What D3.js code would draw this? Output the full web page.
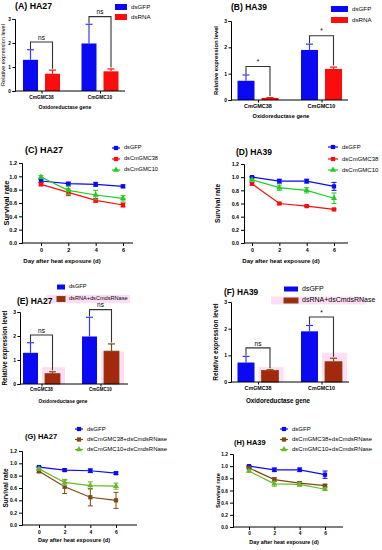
<!DOCTYPE html>
<html>
<head>
<meta charset="utf-8">
<script src="https://cdn.jsdelivr.net/npm/d3@7"></script>
<style>
  body { margin: 0; background: #fff; }
  svg { display: block; font-family: "Liberation Sans", Arial, sans-serif; }
</style>
</head>
<body>
<div id="chart"></div>
<script>
// ---------- data ----------
const genes = ["CmGMC38", "CmGMC10"];
const days = [0, 2, 4, 6];

// (A) HA27 expression
const aSeries = ["dsGFP", "dsRNA"];
const aGFP = [1.30, 1.98], aGFPErr = [0.42, 0.80];
const aRNA = [0.72, 0.82], aRNAErr = [0.15, 0.10];
const aSig = ["ns", "ns"];

// (B) HA39 expression
const bSeries = ["dsGFP", "dsRNA"];
const bGFP = [0.73, 1.90], bGFPErr = [0.22, 0.22];
const bRNA = [0.08, 1.18], bRNAErr = [0.01, 0.07];
const bSig = ["*", "*"];

// (E) HA27 expression with dsCmdsRNase
const eSeries = ["dsGFP", "dsRNA+dsCmdsRNase"];
const eGFP = [1.30, 1.98], eGFPErr = [0.42, 0.80];
const eRNA = [0.43, 1.37], eRNAErr = [0.08, 0.30];
const eSig = ["ns", "ns"];

// (F) HA39 expression with dsCmdsRNase
const fSeries = ["dsGFP", "dsRNA+dsCmdsRNase"];
const fGFP = [0.73, 1.90], fGFPErr = [0.23, 0.22];
const fRNA = [0.43, 0.76], fRNAErr = [0.03, 0.13];
const fSig = ["ns", "*"];

// (C) HA27 survival
const cSeries = ["dsGFP", "dsCmGMC38", "dsCmGMC10"];
const cGFP = [0.93, 0.89, 0.88, 0.85], cGFPErr = [0.02, 0.02, 0.03, 0.02];
const c38 = [0.88, 0.76, 0.64, 0.57], c38Err = [0.02, 0.05, 0.03, 0.03];
const c10 = [0.99, 0.79, 0.72, 0.67], c10Err = [0.02, 0.06, 0.07, 0.04];

// (D) HA39 survival
const dSeries = ["dsGFP", "dsCmGMC38", "dsCmGMC10"];
const dGFP = [1.00, 0.94, 0.94, 0.86], dGFPErr = [0.01, 0.03, 0.03, 0.06];
const d38 = [0.90, 0.60, 0.56, 0.51], d38Err = [0.02, 0.01, 0.01, 0.01];
const d10 = [0.96, 0.84, 0.80, 0.68], d10Err = [0.01, 0.04, 0.04, 0.08];

// (G) HA27 survival with dsCmdsRNase
const gSeries = ["dsGFP", "dsCmGMC38+dsCmdsRNase", "dsCmGMC10+dsCmdsRNase"];
const gGFP = [0.94, 0.89, 0.88, 0.84], gGFPErr = [0.01, 0.02, 0.03, 0.02];
const g38 = [0.87, 0.62, 0.45, 0.40], g38Err = [0.02, 0.11, 0.14, 0.13];
const g10 = [0.91, 0.69, 0.64, 0.63], g10Err = [0.02, 0.05, 0.06, 0.05];

// (H) HA39 survival with dsCmdsRNase
const hSeries = ["dsGFP", "dsCmGMC38+dsCmdsRNase", "dsCmGMC10+dsCmdsRNase"];
const hGFP = [1.00, 0.94, 0.94, 0.86], hGFPErr = [0.01, 0.03, 0.03, 0.06];
const h38 = [0.97, 0.78, 0.72, 0.68], h38Err = [0.01, 0.03, 0.02, 0.02];
const h10 = [0.92, 0.71, 0.70, 0.62], h10Err = [0.02, 0.04, 0.03, 0.02];

// ---------- colours ----------
const BLUE = "#0a0af2", RED = "#fb0d0d", GREEN = "#22cc22";
const BROWN = "#7a4a12", BROWNFILL = "#a3280c", OLIVE = "#6cb52c";
const PINK = "#ffd6f2";

const svg = d3.select("#chart").append("svg")
    .attr("width", 382)
    .attr("height", 550);

function styleAxis(g, fs) {
    g.selectAll("path, line").attr("stroke", "#000").attr("stroke-width", 1);
    g.selectAll("text")
        .attr("font-size", fs)
        .attr("font-weight", "bold")
        .attr("fill", "#000")
        .attr("font-family", "Liberation Sans, Arial, sans-serif");
}

function addText(x, y, txt, size, opts) {
    opts = opts || {};
    const t = svg.append("text")
        .attr("x", x)
        .attr("y", y)
        .attr("font-size", size)
        .attr("font-weight", opts.bold ? "bold" : "normal")
        .attr("text-anchor", opts.anchor || "start")
        .attr("dominant-baseline", "middle")
        .attr("fill", "#000")
        .text(txt);
    if (opts.rotate) t.attr("transform", "rotate(-90," + x + "," + y + ")");
    return t;
}

// bar chart panel (relative expression)
function barPanel(p) {
    const y = d3.scaleLinear().domain([0, 3]).range([p.bottom, p.top]);
    const gx = d3.scalePoint().domain(genes).range(p.centers);
    const half = p.barW + p.gap / 2;
    const sx = d3.scaleBand().domain(p.series).range([-half, half])
        .paddingInner(p.gap / (p.barW + p.gap));
    const bw = sx.bandwidth();

    // pale pink boxes behind the second series and its legend entry (present in the source image)
    if (p.highlight) {
        svg.append("g").selectAll("rect")
            .data(genes.map((gn, i) => ({ gn, v: p.highlight[i] })))
            .enter().append("rect")
            .attr("x", d => gx(d.gn) + sx(p.series[1]) - 3)
            .attr("width", bw + 8)
            .attr("y", d => y(d.v))
            .attr("height", d => y(0) - y(d.v))
            .attr("fill", PINK)
            .attr("opacity", 0.8);
    }
    if (p.legendBg) {
        svg.append("rect")
            .attr("x", p.legendBg[0]).attr("y", p.legendRows[1] - 4)
            .attr("width", p.legendBg[1]).attr("height", 8)
            .attr("fill", PINK).attr("opacity", 0.8);
    }

    const means = [p.m0, p.m1], errs = [p.e0, p.e1];
    p.series.forEach((s, si) => {
        const rows = genes.map((gn, i) => ({ gn, v: means[si][i], e: errs[si][i] }));
        const g = svg.append("g");
        g.selectAll("rect").data(rows).enter().append("rect")
            .attr("x", d => gx(d.gn) + sx(s))
            .attr("y", d => y(d.v))
            .attr("width", bw)
            .attr("height", d => y(0) - y(d.v))
            .attr("fill", p.fills[si])
            .attr("stroke", p.strokes ? p.strokes[si] : "none")
            .attr("stroke-width", 0.8);
        // error bars (upper only)
        g.selectAll("line.eb").data(rows).enter().append("line")
            .attr("x1", d => gx(d.gn) + sx(s) + bw / 2)
            .attr("x2", d => gx(d.gn) + sx(s) + bw / 2)
            .attr("y1", d => y(d.v))
            .attr("y2", d => y(d.v + d.e))
            .attr("stroke", p.errColors[si]).attr("stroke-width", 1.2);
        g.selectAll("line.cap").data(rows).enter().append("line")
            .attr("x1", d => gx(d.gn) + sx(s) + bw / 2 - 3.5)
            .attr("x2", d => gx(d.gn) + sx(s) + bw / 2 + 3.5)
            .attr("y1", d => y(d.v + d.e))
            .attr("y2", d => y(d.v + d.e))
            .attr("stroke", p.errColors[si]).attr("stroke-width", 1.2);
    });

    // significance brackets
    genes.forEach((gn, i) => {
        const t0 = p.m0[i] + p.e0[i], t1 = p.m1[i] + p.e1[i];
        const lvl = Math.max(t0, t1) + 0.32;
        const xa = gx(gn) + sx(p.series[0]) + bw / 2;
        const xb = gx(gn) + sx(p.series[1]) + bw / 2;
        svg.append("path")
            .attr("d", "M" + xa + "," + y(t0 + 0.03) + "V" + y(lvl) + "H" + xb + "V" + y(t1 + 0.06))
            .attr("fill", "none")
            .attr("stroke", "#333")
            .attr("stroke-width", 1.1);
        addText((xa + xb) / 2, y(lvl) - 4, p.sig[i], 6.5, { anchor: "middle" });
    });

    // axes
    const ya = svg.append("g")
        .attr("transform", "translate(" + p.axisX + ",0)")
        .call(d3.axisLeft(y).tickValues([0, 1, 2, 3]).tickSize(2.5).tickPadding(1.5).tickFormat(d3.format("d")));
    styleAxis(ya, p.tickFs);
    svg.append("line")
        .attr("x1", p.axisX).attr("x2", p.axisEnd)
        .attr("y1", y(0)).attr("y2", y(0))
        .attr("stroke", "#000").attr("stroke-width", 1);
    const xa = svg.append("g")
        .attr("transform", "translate(0," + y(0) + ")")
        .call(d3.axisBottom(gx).tickSize(2.5).tickFormat(""));
    xa.select(".domain").remove();
    styleAxis(xa, p.tickFs);
    genes.forEach(gn => addText(gx(gn), p.geneY, gn, p.geneFs, { bold: true, anchor: "middle" }));

    addText(p.titleX, p.titleY, p.title, p.titleFs, { bold: true });
    addText(p.ylabX, (p.top + p.bottom) / 2, "Relative expression level", p.ylabFs, { bold: p.ylabBold, anchor: "middle", rotate: true });
    addText(p.xlabX, p.xlabY, "Oxidoreductase gene", p.xlabFs, { bold: true, anchor: "middle" });

    // legend
    p.series.forEach((s, si) => {
        svg.append("rect")
            .attr("x", p.legendX).attr("y", p.legendRows[si] - p.legendH / 2)
            .attr("width", p.legendW).attr("height", p.legendH)
            .attr("fill", p.fills[si])
            .attr("stroke", p.strokes ? p.strokes[si] : "none");
        addText(p.legendX + p.legendW + 4, p.legendRows[si], s, p.legendFs);
    });
}

// survival line panel
function linePanel(p) {
    const x = d3.scaleLinear().domain([0, 6]).range([p.x0, p.x6]);
    const y = d3.scaleLinear().domain([0, 1.2]).range([p.bottom, p.top]);

    const ya = svg.append("g")
        .attr("transform", "translate(" + p.axisX + ",0)")
        .call(d3.axisLeft(y).tickValues([0, 0.2, 0.4, 0.6, 0.8, 1.0, 1.2]).tickSize(3).tickPadding(2).tickFormat(d3.format(".1f")));
    styleAxis(ya, p.tickFs);
    svg.append("line")
        .attr("x1", p.axisX).attr("x2", p.axisEnd)
        .attr("y1", y(0)).attr("y2", y(0))
        .attr("stroke", "#000").attr("stroke-width", 1);
    const xa = svg.append("g")
        .attr("transform", "translate(0," + y(0) + ")")
        .call(d3.axisBottom(x).tickValues(days).tickSize(3).tickPadding(2).tickFormat(d3.format("d")));
    xa.select(".domain").remove();
    styleAxis(xa, p.tickFs);

    const line = d3.line().x(d => x(d.day)).y(d => y(d.v));
    const symbols = [d3.symbolSquare, d3.symbolSquare, d3.symbolTriangle];
    p.series.forEach((s, si) => {
        const rows = days.map((day, i) => ({ day, v: p.means[si][i], e: p.errs[si][i] }));
        const g = svg.append("g");
        g.append("path").datum(rows)
            .attr("d", line)
            .attr("fill", "none")
            .attr("stroke", p.colors[si])
            .attr("stroke-width", 1.2);
        g.selectAll("line.eb").data(rows).enter().append("line")
            .attr("x1", d => x(d.day)).attr("x2", d => x(d.day))
            .attr("y1", d => y(d.v - d.e)).attr("y2", d => y(d.v + d.e))
            .attr("stroke", p.colors[si]).attr("stroke-width", 1);
        [-1, 1].forEach(sg => {
            g.selectAll("line.cap" + sg).data(rows).enter().append("line")
                .attr("x1", d => x(d.day) - 2.5).attr("x2", d => x(d.day) + 2.5)
                .attr("y1", d => y(d.v + sg * d.e)).attr("y2", d => y(d.v + sg * d.e))
                .attr("stroke", p.colors[si]).attr("stroke-width", 1);
        });
        g.selectAll("path.pt").data(rows).enter().append("path")
            .attr("transform", d => "translate(" + x(d.day) + "," + y(d.v) + ")")
            .attr("d", d3.symbol().type(symbols[si]).size(si === 2 ? 16 : 18))
            .attr("fill", p.colors[si]);

        // legend entry
        const ly = p.legendRows[si];
        svg.append("line")
            .attr("x1", p.legendX).attr("x2", p.legendX + p.legendW)
            .attr("y1", ly).attr("y2", ly)
            .attr("stroke", p.colors[si]).attr("stroke-width", 1.2);
        svg.append("path")
            .attr("transform", "translate(" + (p.legendX + p.legendW / 2) + "," + ly + ")")
            .attr("d", d3.symbol().type(symbols[si]).size(si === 2 ? 16 : 18))
            .attr("fill", p.colors[si]);
        addText(p.legendX + p.legendW + 4, ly, s, p.legendFs);
    });

    addText(p.titleX, p.titleY, p.title, p.titleFs, { bold: true });
    addText(p.ylabX, (p.top + p.bottom) / 2, "Survival rate", p.ylabFs, { bold: true, anchor: "middle", rotate: true });
    addText(p.xlabX, p.xlabY, "Day after heat exposure (d)", p.xlabFs, { bold: true, anchor: "middle" });
}

// ---------- panels ----------
barPanel({
    title: "(A) HA27", titleX: 15, titleY: 7, titleFs: 8.8,
    series: aSeries, m0: aGFP, e0: aGFPErr, m1: aRNA, e1: aRNAErr, sig: aSig,
    fills: [BLUE, RED], errColors: ["#3a3af5", RED],
    axisX: 15, axisEnd: 125, top: 19, bottom: 91, centers: [41.5, 100], barW: 15, gap: 7,
    tickFs: 4.8, geneY: 97.5, geneFs: 4.8,
    ylabX: 4, ylabFs: 5.6, ylabBold: false, xlabX: 65, xlabY: 108, xlabFs: 5.2,
    legendX: 115, legendW: 12, legendH: 6, legendRows: [7, 17], legendFs: 6.2
});

barPanel({
    title: "(B) HA39", titleX: 231, titleY: 7.5, titleFs: 8.5,
    series: bSeries, m0: bGFP, e0: bGFPErr, m1: bRNA, e1: bRNAErr, sig: bSig,
    fills: [BLUE, RED], errColors: ["#3a3af5", RED],
    axisX: 231, axisEnd: 348, top: 21, bottom: 100, centers: [258, 321.5], barW: 17, gap: 7,
    tickFs: 5, geneY: 106.5, geneFs: 5.5,
    ylabX: 216, ylabFs: 5.8, ylabBold: true, xlabX: 281, xlabY: 117, xlabFs: 5.6,
    legendX: 331, legendW: 17, legendH: 6, legendRows: [9, 20], legendFs: 6.2
});

linePanel({
    title: "(C) HA27", titleX: 25, titleY: 151, titleFs: 9,
    series: cSeries, means: [cGFP, c38, c10], errs: [cGFPErr, c38Err, c10Err],
    colors: [BLUE, RED, GREEN],
    axisX: 22, axisEnd: 133, x0: 41, x6: 123, top: 163, bottom: 243,
    tickFs: 5.5, ylabX: 7, ylabFs: 7.5, xlabX: 62, xlabY: 261, xlabFs: 6,
    legendX: 112, legendW: 8, legendRows: [148, 159, 170], legendFs: 5.6
});

linePanel({
    title: "(D) HA39", titleX: 236, titleY: 153, titleFs: 8.5,
    series: dSeries, means: [dGFP, d38, d10], errs: [dGFPErr, d38Err, d10Err],
    colors: [BLUE, RED, GREEN],
    axisX: 244, axisEnd: 348, x0: 252, x6: 334, top: 164, bottom: 243,
    tickFs: 5.3, ylabX: 218, ylabFs: 6.5, xlabX: 281, xlabY: 261, xlabFs: 6,
    legendX: 328, legendW: 10, legendRows: [147, 159, 170], legendFs: 6
});

barPanel({
    title: "(E) HA27", titleX: 17, titleY: 302, titleFs: 8.5,
    series: eSeries, m0: eGFP, e0: eGFPErr, m1: eRNA, e1: eRNAErr, sig: eSig,
    fills: [BLUE, BROWNFILL], strokes: ["none", BROWN], errColors: ["#3a3af5", BROWN],
    highlight: [0.7, 1.35],
    axisX: 20, axisEnd: 128, top: 312, bottom: 384, centers: [41.5, 100.5], barW: 15, gap: 7,
    tickFs: 5, geneY: 390, geneFs: 4.5,
    ylabX: 5, ylabFs: 6.3, ylabBold: true, xlabX: 63, xlabY: 402, xlabFs: 4.8,
    legendX: 57, legendW: 8, legendH: 5, legendRows: [287, 299], legendFs: 5.6,
    legendBg: [47, 83]
});

barPanel({
    title: "(F) HA39", titleX: 224, titleY: 293, titleFs: 8.3,
    series: fSeries, m0: fGFP, e0: fGFPErr, m1: fRNA, e1: fRNAErr, sig: fSig,
    fills: [BLUE, BROWNFILL], strokes: ["none", BROWN], errColors: ["#3a3af5", BROWN],
    highlight: [0.56, 1.1],
    axisX: 231, axisEnd: 349, top: 302, bottom: 382, centers: [258, 321.5], barW: 17, gap: 7,
    tickFs: 5, geneY: 388.5, geneFs: 5.3,
    ylabX: 216, ylabFs: 6.5, ylabBold: true, xlabX: 278, xlabY: 401, xlabFs: 6.3,
    legendX: 284, legendW: 14, legendH: 5, legendRows: [289, 300.5], legendFs: 7,
    legendBg: [271, 95]
});

linePanel({
    title: "(G) HA27", titleX: 25, titleY: 437, titleFs: 7.5,
    series: gSeries, means: [gGFP, g38, g10], errs: [gGFPErr, g38Err, g10Err],
    colors: [BLUE, BROWN, OLIVE],
    axisX: 22, axisEnd: 137, x0: 39, x6: 116, top: 451, bottom: 525,
    tickFs: 5, ylabX: 6, ylabFs: 6.5, xlabX: 74, xlabY: 541, xlabFs: 5.6,
    legendX: 75, legendW: 8, legendRows: [429, 439.5, 449.5], legendFs: 6
});

linePanel({
    title: "(H) HA39", titleX: 234, titleY: 443, titleFs: 7.5,
    series: hSeries, means: [hGFP, h38, h10], errs: [hGFPErr, h38Err, h10Err],
    colors: [BLUE, BROWN, OLIVE],
    axisX: 233, axisEnd: 343, x0: 249, x6: 325, top: 454, bottom: 527,
    tickFs: 4.8, ylabX: 218, ylabFs: 5.8, xlabX: 284, xlabY: 543, xlabFs: 5.4,
    legendX: 280, legendW: 8, legendRows: [429, 439.5, 449.5], legendFs: 6
});
</script>
</body>
</html>
